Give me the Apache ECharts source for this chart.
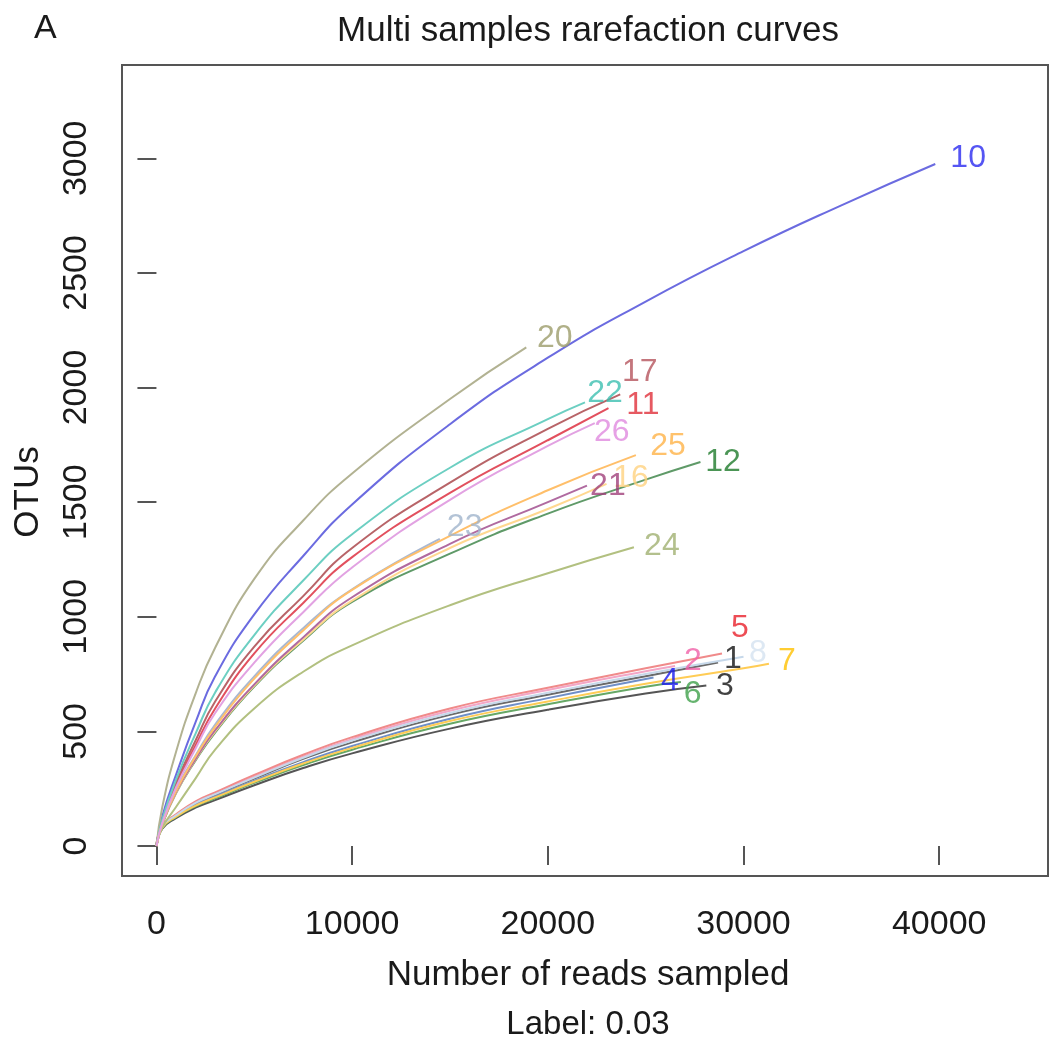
<!DOCTYPE html>
<html>
<head>
<meta charset="utf-8">
<script src="https://cdn.jsdelivr.net/npm/echarts@6/dist/echarts.min.js"></script>
<style>
html,body{margin:0;padding:0;background:#fff;}
#chart{width:1063px;height:1049px;}
</style>
</head>
<body>
<div id="chart"></div>
<script>
// ---------- data ----------
const readSteps = [0, 300, 1000, 2000, 3000, 5000, 7500, 10000, 15000, 20000, 25000, 30000, 35000];
const xTicks = [0, 10000, 20000, 30000, 40000];
const yTicks = [0, 500, 1000, 1500, 2000, 2500, 3000];

const sampleNames = ['1','2','3','4','5','6','7','8','10','11','12','16','17','20','21','22','23','24','25','26'];
const endReads = {
  '1': 28700, '2': 26500, '3': 28100, '4': 25400, '5': 28900, '6': 26800, '7': 31300, '8': 30000,
  '10': 39800, '11': 23100, '12': 27800, '16': 23000, '17': 23700, '20': 18900, '21': 22000,
  '22': 21900, '23': 14480, '24': 24400, '25': 24500, '26': 22400
};
// OTU values at readSteps (below the end), last value = OTU at endReads
const otu_1  = [0, 84, 132, 185, 222, 294, 380, 452, 572, 660, 740, 800];
const otu_2  = [0, 86, 136, 190, 229, 302, 390, 466, 590, 680, 762, 785];
const otu_3  = [0, 75, 121, 167, 200, 265, 340, 404, 512, 594, 665, 700];
const otu_4  = [0, 82, 130, 180, 216, 285, 366, 436, 555, 645, 728, 735];
const otu_5  = [0, 88, 138, 195, 234, 310, 398, 475, 600, 690, 775, 840];
const otu_6  = [0, 79, 126, 173, 208, 275, 353, 420, 533, 618, 695, 715];
const otu_7  = [0, 80, 128, 176, 212, 280, 360, 428, 545, 630, 708, 775, 795];
const otu_8  = [0, 85, 134, 188, 226, 298, 385, 460, 580, 668, 750, 825];
const otu_10 = [0, 130, 310, 540, 740, 1010, 1265, 1490, 1840, 2130, 2375, 2595, 2795, 2975];
const otu_11 = [0, 105, 265, 440, 600, 840, 1060, 1260, 1540, 1770, 1910];
const otu_12 = [0, 94, 230, 373, 495, 695, 895, 1065, 1275, 1450, 1598, 1675];
const otu_16 = [0, 95, 232, 377, 500, 700, 900, 1070, 1300, 1470, 1580];
const otu_17 = [0, 110, 275, 460, 630, 870, 1090, 1300, 1585, 1820, 1970];
const otu_20 = [0, 170, 410, 665, 865, 1165, 1420, 1625, 1950, 2175];
const otu_21 = [0, 95, 235, 380, 505, 705, 910, 1085, 1318, 1500, 1572];
const otu_22 = [0, 115, 290, 490, 670, 920, 1158, 1360, 1650, 1862, 1935];
const otu_23 = [0, 98, 245, 395, 530, 740, 950, 1120, 1340];
const otu_24 = [0, 80, 170, 295, 420, 600, 760, 875, 1050, 1190, 1303];
const otu_25 = [0, 97, 240, 390, 520, 730, 940, 1117, 1353, 1552, 1705];
const otu_26 = [0, 100, 255, 425, 580, 800, 1020, 1215, 1510, 1745, 1845];
const otuValues = {
  '1': otu_1, '2': otu_2, '3': otu_3, '4': otu_4, '5': otu_5, '6': otu_6, '7': otu_7, '8': otu_8,
  '10': otu_10, '11': otu_11, '12': otu_12, '16': otu_16, '17': otu_17, '20': otu_20, '21': otu_21,
  '22': otu_22, '23': otu_23, '24': otu_24, '25': otu_25, '26': otu_26
};
// label anchor points (data units)
const labelNames = ['10','20','17','22','11','26','25','12','16','21','23','24','5','8','1','7','2','4','3','6'];
const labelReads = [41480, 20360, 24700, 22920, 24860, 23270, 26140, 28950, 24250, 23070, 15750, 25830, 29820, 30740, 29460, 32220, 27420, 26240, 29050, 27400];
const labelOTU   = [3000, 2214, 2066, 1974, 1921, 1804, 1742, 1673, 1603, 1568, 1389, 1306, 948, 843, 817, 808, 808, 721, 699, 664];

// ---------- styles ----------
const lineColors = {
  '1': '#6a6a6a', '2': '#f2a6c6', '3': '#555555', '4': '#6f8fc8', '5': '#f08a8a', '6': '#66a866',
  '7': '#ffcc55', '8': '#c6d8ea', '10': '#6b6be0', '11': '#e2505e', '12': '#5f9a68', '16': '#ffd890',
  '17': '#b86468', '20': '#b2b292', '21': '#b06aa0', '22': '#6ccfc2', '23': '#a8b8d2', '24': '#b2c080',
  '25': '#ffbf6a', '26': '#e2a2e2'
};
const labelColors = {
  '1': '#111111', '2': '#f060a8', '3': '#111111', '4': '#1a1af0', '5': '#e8202a', '6': '#3fa04a',
  '7': '#ffc000', '8': '#d4e2f0', '10': '#2b2bf0', '11': '#e0303a', '12': '#1e7a2a', '16': '#ffd27f',
  '17': '#b5545c', '20': '#9c9c6a', '21': '#a0407a', '22': '#3cbfb0', '23': '#a0b4cc', '24': '#a0b070',
  '25': '#ffb347', '26': '#e08adf'
};
const FONT = "'Liberation Sans', Arial, Helvetica, sans-serif";

function seriesData(name) {
  const vals = otuValues[name];
  const end = endReads[name];
  const pts = [];
  let i = 0;
  while (i < readSteps.length && readSteps[i] < end && i < vals.length - 1) {
    pts.push([readSteps[i], vals[i]]);
    i++;
  }
  pts.push([end, vals[vals.length - 1]]);
  return pts;
}

const series = sampleNames.map(n => ({
  type: 'line',
  name: n,
  data: seriesData(n),
  smooth: 0.5,
  showSymbol: false,
  symbol: 'none',
  lineStyle: { color: lineColors[n], width: 2 },
  emphasis: { disabled: true },
  silent: true,
  z: 2
}));

series.push({
  type: 'scatter',
  symbolSize: 1,
  itemStyle: { color: 'rgba(0,0,0,0)' },
  silent: true,
  z: 5,
  data: labelNames.map((n, i) => ({
    name: n,
    value: [labelReads[i], labelOTU[i]],
    label: { color: labelColors[n] }
  })),
  label: {
    show: true,
    position: 'inside',
    formatter: p => p.name,
    fontFamily: FONT,
    fontSize: 32
  }
});

const chart = echarts.init(document.getElementById('chart'), null, { renderer: 'canvas' });
chart.setOption({
  animation: false,
  backgroundColor: '#ffffff',
  grid: {
    left: 122, top: 65, right: 15, bottom: 173,
    show: true, borderColor: '#555', borderWidth: 2, backgroundColor: 'transparent'
  },
  xAxis: {
    type: 'value',
    min: -1760, max: 45560,
    axisLine: { show: false },
    splitLine: { show: false },
    axisTick: { show: true, length: 19, inside: false, customValues: xTicks, lineStyle: { color: '#555', width: 2 } },
    axisLabel: { customValues: xTicks, formatter: v => String(v), fontSize: 34, fontFamily: FONT, color: '#1a1a1a', margin: 32 }
  },
  yAxis: {
    type: 'value',
    min: -131, max: 3407,
    axisLine: { show: false },
    splitLine: { show: false },
    axisTick: { show: true, length: 19, inside: false, customValues: yTicks, lineStyle: { color: '#555', width: 2 } },
    axisLabel: { customValues: yTicks, formatter: v => String(v), fontSize: 34, fontFamily: FONT, color: '#1a1a1a', rotate: 90, margin: 28 }
  },
  graphic: [
    { type: 'text', left: 34, top: 12, style: { text: 'A', font: '34px ' + FONT, fill: '#1a1a1a' } },
    { type: 'text', x: 588, y: 31, style: { text: 'Multi samples rarefaction curves', font: '35px ' + FONT, fill: '#1a1a1a', align: 'center', verticalAlign: 'middle' } },
    { type: 'text', x: 588, y: 975, style: { text: 'Number of reads sampled', font: '35px ' + FONT, fill: '#1a1a1a', align: 'center', verticalAlign: 'middle' } },
    { type: 'text', x: 588, y: 1025, style: { text: 'Label: 0.03', font: '33px ' + FONT, fill: '#1a1a1a', align: 'center', verticalAlign: 'middle' } },
    { type: 'text', x: 28, y: 492, rotation: Math.PI / 2, style: { text: 'OTUs', font: '35px ' + FONT, fill: '#1a1a1a', align: 'center', verticalAlign: 'middle' } }
  ],
  series: series
});
</script>
</body>
</html>
